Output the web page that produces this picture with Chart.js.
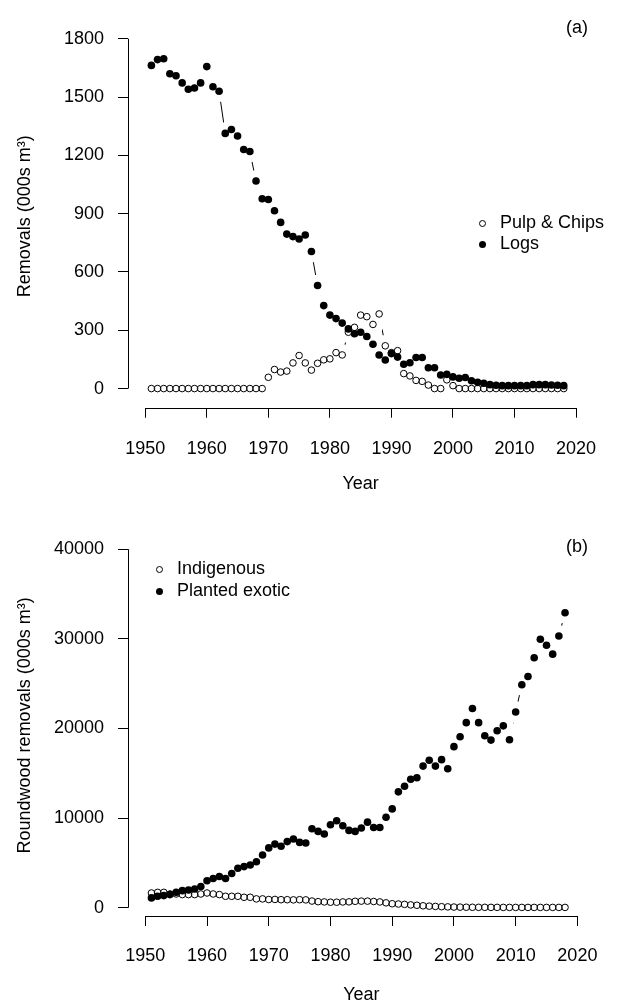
<!DOCTYPE html>
<html><head><meta charset="utf-8">
<script src="https://cdn.jsdelivr.net/npm/chart.js@4"></script>
<style>
html,body{margin:0;padding:0;background:#fff;}
body{width:617px;height:1007px;position:relative;overflow:hidden;font-family:"Liberation Sans",Arial,sans-serif;color:#000;}
.wrap{position:absolute;left:0;width:617px;}
.txt{position:absolute;font-size:18px;line-height:21.6px;white-space:nowrap;}
.sym{position:absolute;box-sizing:border-box;border-radius:50%;}
.sym.open{width:7px;height:7px;border:1px solid #000;background:transparent;}
.sym.fill{width:7px;height:7px;background:#000;}
</style></head>
<body>
<div class="wrap" style="top:0;height:510px"><canvas id="c1" width="617" height="510"></canvas></div>
<div class="wrap" style="top:510px;height:497px"><canvas id="c2" width="617" height="497"></canvas></div>

<div class="txt" style="left:557px;top:17px;width:40px;text-align:center">(a)</div>
<div class="txt" style="left:557px;top:536px;width:40px;text-align:center">(b)</div>

<span class="sym open" style="left:478.5px;top:219.5px"></span>
<div class="txt" style="left:500px;top:211.5px">Pulp &amp; Chips</div>
<span class="sym fill" style="left:478.5px;top:240.5px"></span>
<div class="txt" style="left:500px;top:232.5px">Logs</div>

<span class="sym open" style="left:155.5px;top:565.5px"></span>
<div class="txt" style="left:177px;top:557.5px">Indigenous</div>
<span class="sym fill" style="left:155.5px;top:587.5px"></span>
<div class="txt" style="left:177px;top:579.5px">Planted exotic</div>

<script>
// ---- data ----
const years = [1951,1952,1953,1954,1955,1956,1957,1958,1959,1960,
  1961,1962,1963,1964,1965,1966,1967,1968,1969,1970,
  1971,1972,1973,1974,1975,1976,1977,1978,1979,1980,
  1981,1982,1983,1984,1985,1986,1987,1988,1989,1990,
  1991,1992,1993,1994,1995,1996,1997,1998,1999,2000,
  2001,2002,2003,2004,2005,2006,2007,2008,2009,2010,
  2011,2012,2013,2014,2015,2016,2017,2018];

const logs = [1663,1693,1697,1620,1610,1573,1540,1547,1573,1657,
  1553,1530,1313,1333,1300,1230,1220,1068,977,973,
  915,855,795,782,770,790,705,530,427,378,
  360,337,307,282,290,268,228,173,147,180,
  162,125,133,160,160,107,107,70,73,60,
  53,57,40,32,27,20,17,15,15,15,
  15,15,20,20,20,18,17,15];

const pulp = [0,0,0,0,0,0,0,0,0,0,
  0,0,0,0,0,0,0,0,0,58,
  98,85,90,132,170,132,95,130,148,153,
  185,173,290,315,378,370,330,384,220,185,
  195,77,65,42,37,18,0,0,45,15,
  0,0,0,0,0,0,0,0,0,0,
  0,0,0,0,0,0,0,0];

const planted = [1100,1280,1360,1470,1720,1910,1980,2090,2380,3010,
  3270,3480,3270,3820,4410,4590,4770,5140,5880,6680,
  7100,6870,7380,7670,7290,7230,8820,8520,8230,9260,
  9700,9150,8630,8520,8890,9550,8960,8960,10100,11030,
  12930,13560,14330,14510,15800,16460,15800,16520,15500,17970,
  19070,20650,22230,20650,19180,18700,19740,20290,18740,21830,
  24870,25800,27890,29950,29280,28290,30320,32900];

const indigenous = [1650,1720,1720,1540,1540,1470,1470,1470,1540,1650,
  1540,1470,1280,1280,1280,1170,1170,990,990,920,
  930,900,900,880,900,880,750,680,650,620,
  620,650,660,720,740,740,700,650,550,450,
  420,380,320,280,220,180,150,120,100,80,
  70,60,55,50,50,45,45,40,40,40,
  40,40,40,40,40,40,40,40];

const xTicks = [1950,1960,1970,1980,1990,2000,2010,2020];
const yTicksA = [0,300,600,900,1200,1500,1800];
const yTicksB = [0,10000,20000,30000,40000];

// ---- helpers ----
Chart.defaults.font.family = '"Liberation Sans", Arial, sans-serif';
Chart.defaults.font.size = 18;
Chart.defaults.color = '#000';

const GAP = 10.7;
function pts(vals){ return years.map((y,i)=>({x:y, y:vals[i]})); }
function seriesSets(vals, filled){
  return [
    {data:pts(vals), showLine:true, borderColor:'#000', borderWidth:1, pointRadius:0, fill:false, order:10},
    {data:pts(vals), showLine:false, pointRadius:GAP, pointBackgroundColor:'#fff', pointBorderColor:'#fff', pointBorderWidth:0, order:5},
    {data:pts(vals), showLine:false, pointStyle:'circle',
      pointRadius: filled ? 3.8 : 3.3,
      pointBackgroundColor: filled ? '#000' : 'rgba(0,0,0,0)',
      pointBorderColor:'#000', pointBorderWidth: filled ? 0 : 1, order:1}
  ];
}

const rAxes = {
  id:'rAxes',
  afterDraw(chart){
    const {ctx, chartArea, scales} = chart;
    const xs = scales.x, ys = scales.y;
    const xt = xs.ticks.map(t=>t.value), yt = ys.ticks.map(t=>t.value);
    ctx.save();
    ctx.strokeStyle = '#000'; ctx.lineWidth = 1;
    ctx.beginPath();
    const by = Math.round(chartArea.bottom) + 0.5;
    ctx.moveTo(xs.getPixelForValue(Math.min(...xt)), by);
    ctx.lineTo(xs.getPixelForValue(Math.max(...xt)), by);
    const lx = Math.round(chartArea.left) + 0.5;
    ctx.moveTo(lx, ys.getPixelForValue(Math.min(...yt)));
    ctx.lineTo(lx, ys.getPixelForValue(Math.max(...yt)));
    ctx.stroke();
    ctx.restore();
  }
};

function makeChart(id, opt){
  return new Chart(document.getElementById(id), {
    type:'line',
    data:{datasets: opt.datasets},
    options:{
      responsive:false, animation:false, devicePixelRatio:1,
      layout:{padding:{top:opt.padTop, right:2, left:0, bottom:0}},
      plugins:{legend:{display:false}, tooltip:{enabled:false}},
      elements:{line:{tension:0}},
      scales:{
        x:{type:'linear', min:1947.2, max:2022.8,
          afterBuildTicks:s=>{ s.ticks = xTicks.map(v=>({value:v})); },
          afterFit:s=>{ s.height = opt.xHeight; },
          ticks:{padding:opt.xTickPad, maxRotation:0, autoSkip:false, color:'#000', callback:v=>String(v)},
          grid:{display:true, drawOnChartArea:false, drawTicks:true, tickLength:10, color:'#000', lineWidth:1},
          border:{display:false},
          title:{display:true, text:'Year', color:'#000', padding:{top:0, bottom:opt.xTitlePad}}
        },
        y:{type:'linear', min:opt.yMin, max:opt.yMax,
          afterBuildTicks:s=>{ s.ticks = opt.yTicks.map(v=>({value:v})); },
          afterFit:s=>{ s.width = 128; },
          ticks:{padding:14, autoSkip:false, color:'#000', callback:v=>String(v)},
          grid:{display:true, drawOnChartArea:false, drawTicks:true, tickLength:10, color:'#000', lineWidth:1},
          border:{display:false},
          title:{display:true, text:opt.yTitle, color:'#000', padding:{top:14, bottom:0}}
        }
      }
    },
    plugins:[rAxes]
  });
}

makeChart('c1', {
  datasets:[...seriesSets(pulp,false), ...seriesSets(logs,true)],
  yMin:-98.5, yMax:1872, yTicks:yTicksA, padTop:13.6,
  xHeight:102.3, xTickPad:20.5, xTitlePad:15.2,
  yTitle:'Removals (000s m³)'
});

makeChart('c2', {
  datasets:[...seriesSets(indigenous,false), ...seriesSets(planted,true)],
  yMin:-918, yMax:41600, yTicks:yTicksB, padTop:21.5,
  xHeight:91, xTickPad:19.2, xTitlePad:1.2,
  yTitle:'Roundwood removals (000s m³)'
});
</script>
</body></html>
